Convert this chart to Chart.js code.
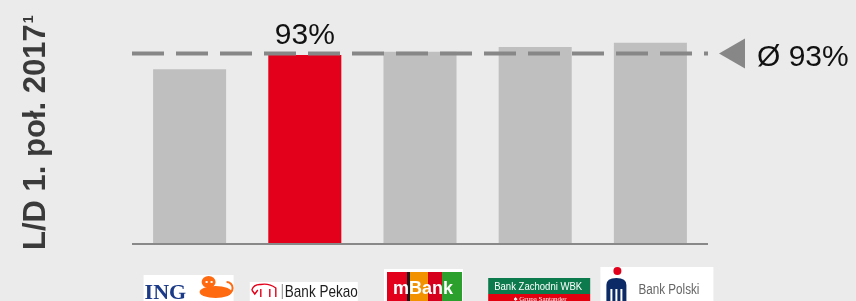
<!DOCTYPE html>
<html>
<head>
<meta charset="utf-8">
<script src="https://cdn.jsdelivr.net/npm/chart.js@4/dist/chart.umd.min.js"></script>
<style>
  html, body { margin: 0; padding: 0; background: #ebebeb; overflow: hidden; }
  #wrap { width: 856px; height: 301px; }
</style>
</head>
<body>
<div id="wrap"><canvas id="ldChart" width="856" height="301"></canvas></div>
<script>
// dane
const banks = ['ING', 'Bank Pekao', 'mBank', 'Bank Zachodni WBK', 'PKO Bank Polski'];
const loanToDeposit = [86, 93, 94.6, 97, 99];
const highlightBank = 'Bank Pekao';
const averageLevel = 93.8;
const averageLabel = 'Ø 93%';
const axisTitle = 'L/D 1. poł. 2017';
const axisTitleNote = '1';

const GRAY_BAR = '#bfbfbf';
const RED_BAR = '#e2001a';
const LINE_GRAY = '#878787';
const FONT = '"Liberation Sans", Arial, sans-serif';

// logotypy banków (szkice) rysowane względem środka kategorii
const logos = {
  'ING': (ctx, cx) => {
    ctx.fillStyle = '#fff';
    ctx.fillRect(cx - 46, 275, 90, 26);
    ctx.fillStyle = '#1b3a87';
    ctx.font = 'bold 22px "Liberation Serif", serif';
    ctx.textAlign = 'left';
    ctx.textBaseline = 'alphabetic';
    ctx.fillText('ING', cx - 45, 299, 49);
    // lew
    ctx.fillStyle = '#ff6a10';
    ctx.beginPath();
    ctx.ellipse(cx + 19, 282, 7, 6, 0, 0, Math.PI * 2);
    ctx.fill();
    ctx.beginPath();
    ctx.ellipse(cx + 26, 292, 16, 6, 0, 0, Math.PI * 2);
    ctx.fill();
    ctx.strokeStyle = '#ff6a10';
    ctx.lineWidth = 2;
    ctx.beginPath();
    ctx.arc(cx + 37, 288, 6, -Math.PI / 2, Math.PI / 2);
    ctx.stroke();
    ctx.fillStyle = '#fff';
    ctx.fillRect(cx + 16, 281, 2, 2);
    ctx.fillRect(cx + 21, 281, 2, 2);
  },
  'Bank Pekao': (ctx, cx) => {
    ctx.fillStyle = '#fff';
    ctx.fillRect(cx - 55, 282, 108, 19);
    ctx.strokeStyle = '#e2001a';
    ctx.lineWidth = 1.4;
    ctx.beginPath();
    ctx.moveTo(cx - 53, 290);
    ctx.quadraticCurveTo(cx - 51, 284, cx - 44, 284.5);
    ctx.quadraticCurveTo(cx - 36, 283, cx - 29, 288);
    ctx.lineTo(cx - 29, 297);
    ctx.moveTo(cx - 35, 289);
    ctx.lineTo(cx - 35, 297);
    ctx.moveTo(cx - 44, 289);
    ctx.lineTo(cx - 44, 297);
    ctx.moveTo(cx - 53, 290);
    ctx.lineTo(cx - 50, 294);
    ctx.lineTo(cx - 47, 290);
    ctx.stroke();
    ctx.fillStyle = '#888';
    ctx.fillRect(cx - 23, 284, 1, 15);
    ctx.fillStyle = '#1e1e1e';
    ctx.font = '17px ' + FONT;
    ctx.textAlign = 'left';
    ctx.fillText('Bank Pekao', cx - 20, 297, 73);
  },
  'mBank': (ctx, cx) => {
    const x0 = cx - 36, y0 = 269;
    ctx.fillStyle = '#fff';
    ctx.fillRect(x0, y0, 79, 32);
    const stripes = [['#e2001a', 20], ['#1a1a1a', 3], ['#f39200', 18], ['#d6001c', 14], ['#2ca02c', 20]];
    let x = x0 + 3;
    for (const [c, w] of stripes) {
      ctx.fillStyle = c;
      ctx.fillRect(x, y0 + 3, w, 29);
      x += w;
    }
    ctx.fillStyle = '#fff';
    ctx.font = 'bold 18px ' + FONT;
    ctx.textAlign = 'center';
    ctx.fillText('mBank', cx + 3, 294, 60);
  },
  'Bank Zachodni WBK': (ctx, cx) => {
    ctx.fillStyle = '#0d7a4e';
    ctx.fillRect(cx - 47, 278, 102, 16);
    ctx.fillStyle = '#e3000f';
    ctx.fillRect(cx - 47, 294, 102, 7);
    ctx.fillStyle = '#fff';
    ctx.font = '11px ' + FONT;
    ctx.textAlign = 'center';
    ctx.fillText('Bank Zachodni WBK', cx + 3, 290, 88);
    ctx.font = '7px "Liberation Serif", serif';
    ctx.fillText('♠ Grupa Santander', cx + 5, 301, 60);
  },
  'PKO Bank Polski': (ctx, cx) => {
    ctx.fillStyle = '#fff';
    ctx.fillRect(cx - 50, 267, 113, 34);
    ctx.fillStyle = '#e2001a';
    ctx.beginPath();
    ctx.arc(cx - 33, 271, 4, 0, Math.PI * 2);
    ctx.fill();
    ctx.fillStyle = '#0b2a66';
    ctx.beginPath();
    ctx.moveTo(cx - 44, 301);
    ctx.lineTo(cx - 44, 285);
    ctx.quadraticCurveTo(cx - 44, 278, cx - 34, 278);
    ctx.quadraticCurveTo(cx - 24, 278, cx - 24, 285);
    ctx.lineTo(cx - 24, 301);
    ctx.fill();
    ctx.fillStyle = '#fff';
    ctx.fillRect(cx - 40, 289, 2, 12);
    ctx.fillRect(cx - 35, 289, 2, 12);
    ctx.fillRect(cx - 30, 289, 2, 12);
    ctx.fillStyle = '#666';
    ctx.font = '14px ' + FONT;
    ctx.textAlign = 'left';
    ctx.fillText('Bank Polski', cx - 12, 294, 61);
  }
};

const decorations = {
  id: 'decorations',
  afterDatasetsDraw(chart) {
    const { ctx, chartArea, scales } = chart;
    const xs = scales.x, ys = scales.y;
    ctx.save();

    // oś bazowa
    ctx.strokeStyle = '#888';
    ctx.lineWidth = 2;
    ctx.beginPath();
    ctx.moveTo(chartArea.left, chartArea.bottom);
    ctx.lineTo(chartArea.right, chartArea.bottom);
    ctx.stroke();

    // linia średniej
    const yAvg = ys.getPixelForValue(averageLevel);
    ctx.strokeStyle = LINE_GRAY;
    ctx.lineWidth = 4;
    ctx.setLineDash([32, 12]);
    ctx.beginPath();
    ctx.moveTo(chartArea.left, yAvg);
    ctx.lineTo(chartArea.right, yAvg);
    ctx.stroke();
    ctx.setLineDash([]);

    // trójkąt i etykieta średniej
    ctx.fillStyle = LINE_GRAY;
    ctx.beginPath();
    ctx.moveTo(chartArea.right + 11, yAvg);
    ctx.lineTo(chartArea.right + 37, yAvg - 15);
    ctx.lineTo(chartArea.right + 37, yAvg + 15);
    ctx.closePath();
    ctx.fill();

    ctx.fillStyle = '#111';
    ctx.font = '30px ' + FONT;
    ctx.textAlign = 'left';
    ctx.textBaseline = 'alphabetic';
    ctx.fillText(averageLabel, chartArea.right + 49, yAvg + 13);

    // etykieta wyróżnionego banku
    const hi = banks.indexOf(highlightBank);
    const hx = xs.getPixelForValue(hi);
    const hy = ys.getPixelForValue(loanToDeposit[hi]);
    ctx.textAlign = 'center';
    ctx.fillText(Math.round(loanToDeposit[hi]) + '%', hx, hy - 11);

    // tytuł osi Y z przypisem
    ctx.save();
    ctx.translate(45, 250);
    ctx.rotate(-Math.PI / 2);
    ctx.fillStyle = '#3a3a3a';
    ctx.font = 'bold 31px ' + FONT;
    ctx.textAlign = 'left';
    ctx.fillText(axisTitle, 0, 0);
    const w = ctx.measureText(axisTitle).width;
    ctx.font = 'bold 14px ' + FONT;
    ctx.fillText(axisTitleNote, w + 1, -12);
    ctx.restore();

    // logotypy
    banks.forEach((b, i) => {
      const cx = xs.getPixelForValue(i);
      if (logos[b]) logos[b](ctx, cx);
    });

    ctx.restore();
  }
};

new Chart(document.getElementById('ldChart').getContext('2d'), {
  type: 'bar',
  data: {
    labels: banks,
    datasets: [{
      label: 'L/D',
      data: loanToDeposit,
      backgroundColor: banks.map(b => b === highlightBank ? RED_BAR : GRAY_BAR),
      borderWidth: 0,
      categoryPercentage: 1,
      barPercentage: 0.634
    }]
  },
  options: {
    responsive: false,
    animation: false,
    layout: { padding: { left: 132, right: 148, top: 20.5, bottom: 57 } },
    scales: {
      x: { display: false },
      y: { display: false, min: 0, max: 110 }
    },
    plugins: {
      legend: { display: false },
      tooltip: { enabled: false }
    }
  },
  plugins: [decorations]
});
</script>
</body>
</html>
